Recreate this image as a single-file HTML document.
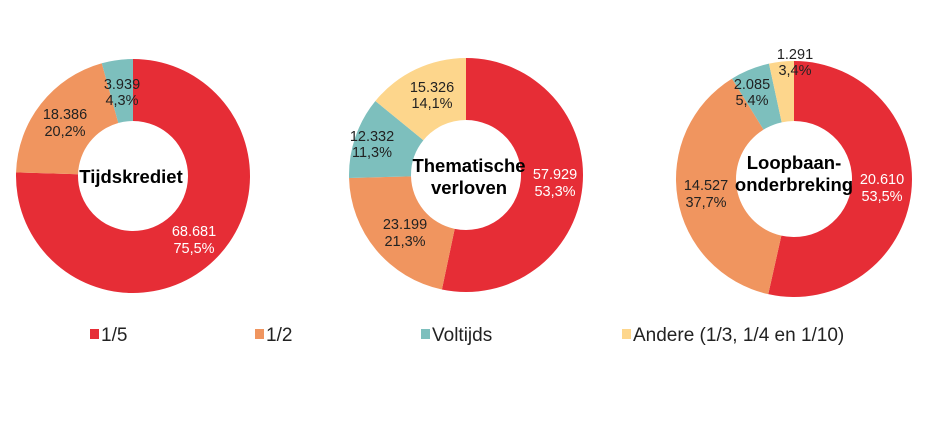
<!DOCTYPE html>
<html><head><meta charset="utf-8"><style>
body{margin:0;background:#fff;}
svg{display:block;font-family:"Liberation Sans",Arial,sans-serif;}
</style></head><body>
<svg id="s" width="945" height="425" viewBox="0 0 945 425" xmlns="http://www.w3.org/2000/svg">
<rect width="945" height="425" fill="#fff"/>
<g id="d"></g>
<g font-size="14.5" text-anchor="middle" fill="#222">
<text x="122" y="89">3.939</text><text x="122" y="105">4,3%</text>
<text x="65" y="119">18.386</text><text x="65" y="136">20,2%</text>
<text x="194" y="236" fill="#fff">68.681</text><text x="194" y="253" fill="#fff">75,5%</text>
<text x="432" y="92">15.326</text><text x="432" y="108">14,1%</text>
<text x="372" y="141">12.332</text><text x="372" y="157">11,3%</text>
<text x="405" y="229">23.199</text><text x="405" y="246">21,3%</text>
<text x="555" y="179" fill="#fff">57.929</text><text x="555" y="196" fill="#fff">53,3%</text>
<text x="795" y="59">1.291</text><text x="795" y="75">3,4%</text>
<text x="752" y="89">2.085</text><text x="752" y="105">5,4%</text>
<text x="706" y="190">14.527</text><text x="706" y="207">37,7%</text>
<text x="882" y="184" fill="#fff">20.610</text><text x="882" y="201" fill="#fff">53,5%</text>
</g>
<g font-size="18.5" font-weight="bold" text-anchor="middle" fill="#000">
<text x="131" y="183">Tijdskrediet</text>
<text x="469" y="172">Thematische</text><text x="469" y="194">verloven</text>
<text x="794" y="169">Loopbaan-</text><text x="794" y="191">onderbreking</text>
</g>
<g font-size="19" fill="#222">
<rect x="90" y="329" width="9" height="10" fill="#e62d36"/><text x="101" y="341">1/5</text>
<rect x="255" y="329" width="9" height="10" fill="#f0955f"/><text x="266" y="341">1/2</text>
<rect x="421" y="329" width="9" height="10" fill="#7dbfbd"/><text x="432" y="341">Voltijds</text>
<rect x="622" y="329" width="9" height="10" fill="#fdd68c"/><text x="633" y="341">Andere (1/3, 1/4 en 1/10)</text>
</g>
</svg>
<script>
var cols=["#e62d36","#f0955f","#7dbfbd","#fdd68c"];
var charts=[[133,176,117,55,[75.5,20.2,4.3]],[466,175,117,55,[53.3,21.3,11.3,14.1]],[794,179,118,58,[53.5,37.7,5.4,3.4]]];
var g=document.getElementById("d"),h="";
charts.forEach(function(c){
 var cx=c[0],cy=c[1],R=c[2],r=c[3],v=c[4],t=v.reduce(function(a,b){return a+b},0),a=0;
 v.forEach(function(x,i){
  var a0=a/t*2*Math.PI,a1=(a+x)/t*2*Math.PI;a+=x;
  var L=(a1-a0)>Math.PI?1:0;
  function p(rr,an){return (cx+rr*Math.sin(an)).toFixed(2)+" "+(cy-rr*Math.cos(an)).toFixed(2);}
  h+='<path fill="'+cols[i]+'" d="M'+p(R,a0)+' A'+R+' '+R+' 0 '+L+' 1 '+p(R,a1)+' L'+p(r,a1)+' A'+r+' '+r+' 0 '+L+' 0 '+p(r,a0)+' Z"/>';
 });
});
g.innerHTML=h;
</script>
</body></html>
